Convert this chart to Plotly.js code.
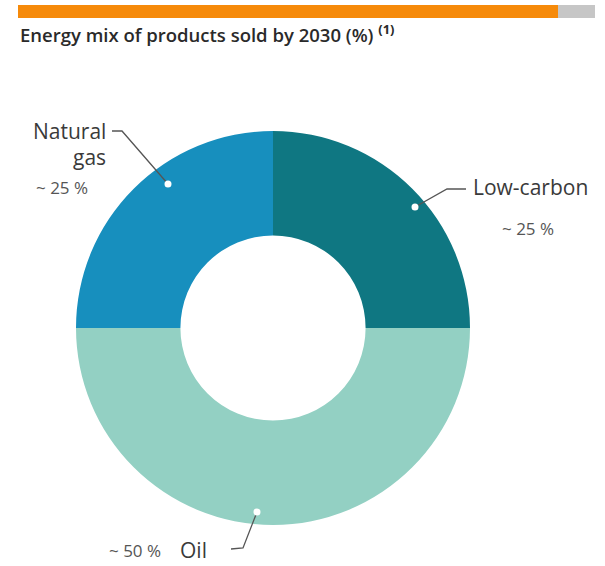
<!DOCTYPE html>
<html><head><meta charset="utf-8">
<script src="https://cdn.plot.ly/plotly-3.0.1.min.js"></script>
<style>html,body{margin:0;padding:0;background:#fff}#c{width:605px;height:566px}</style>
</head><body><div id="c"></div>
<script>
const categories = ["Low-carbon", "Oil", "Natural gas"];
const shares = [25, 50, 25];
const shareLabels = ["~ 25 %", "~ 50 %", "~ 25 %"];
const sliceColors = ["#0f7782", "#93d0c3", "#178fbe"];

const W = 605, H = 566;
const px = x => x / W, py = y => 1 - y / H;
const cx = 273, cy = 328, r = 197;

const data = [{
  type: "pie", values: shares, labels: categories, hole: 0.47,
  sort: false, direction: "clockwise", rotation: 0,
  marker: {colors: sliceColors, line: {width: 0}},
  textinfo: "none", hoverinfo: "label+value", showlegend: false,
  domain: {x: [px(cx - r), px(cx + r)], y: [py(cy + r), py(cy - r)]}
}];

const lineCol = "#555";
function leader(pts) {
  return {type: "path", xref: "paper", yref: "paper",
    path: "M " + pts.map(p => px(p[0]) + "," + py(p[1])).join(" L "),
    line: {color: lineCol, width: 1.3}};
}
function dot(x, y) {
  const d = 3.5;
  return {type: "circle", xref: "paper", yref: "paper",
    x0: px(x - d), x1: px(x + d), y0: py(y + d), y1: py(y - d),
    fillcolor: "#fff", line: {color: "#fff", width: 0}};
}
const shapes = [
  {type: "rect", xref: "paper", yref: "paper", x0: px(18), x1: px(558), y0: py(18), y1: py(5), fillcolor: "#f68a0a", line: {width: 0}},
  {type: "rect", xref: "paper", yref: "paper", x0: px(558), x1: px(595), y0: py(18), y1: py(5), fillcolor: "#c6c6c6", line: {width: 0}},
  leader([[168, 184], [122, 131], [112, 131]]),
  leader([[415, 207], [447, 189], [466, 189]]),
  leader([[257, 512], [243, 548], [231, 549]]),
  dot(168, 184), dot(415, 207), dot(257, 512)
];

const fLab = {family: "'Open Sans', Roboto, sans-serif", size: 21, color: "#3a3a3a"};
const fPct = {family: "'Open Sans', Roboto, sans-serif", size: 17, color: "#555"};
function ann(text, x, y, xa, font) {
  return {text: text, xref: "paper", yref: "paper", x: px(x), y: py(y),
    xanchor: xa, yanchor: "middle", showarrow: false, font: font};
}
const annotations = [
  {text: "Energy mix of products sold by 2030 (%) <sup><b>(1)</b></sup>", xref: "paper", yref: "paper",
   x: px(18), y: py(34), xanchor: "left", yanchor: "middle", showarrow: false,
   font: {family: "'Open Sans', Roboto, sans-serif", size: 18.5, weight: 600, color: "#2a2a2a"}},
  ann("Natural", 108, 131, "right", fLab),
  ann("gas", 108, 157, "right", fLab),
  ann(shareLabels[2], 34, 188, "left", fPct),
  ann(categories[0], 471, 187, "left", fLab),
  ann(shareLabels[0], 500, 228, "left", fPct),
  ann(categories[1], 209, 550, "right", fLab),
  ann(shareLabels[1], 107, 550, "left", fPct)
];

Plotly.newPlot("c", data, {
  width: W, height: H, margin: {l: 0, r: 0, t: 0, b: 0},
  paper_bgcolor: "#fff", plot_bgcolor: "#fff",
  shapes: shapes, annotations: annotations
}, {displayModeBar: false, staticPlot: true});
</script></body></html>
